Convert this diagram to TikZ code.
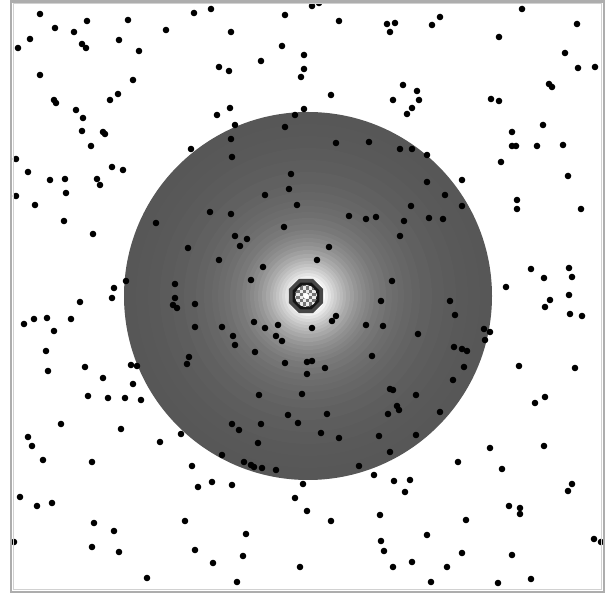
\documentclass[tikz,border=0pt]{standalone}
\usetikzlibrary{calc}

\begin{document}
\begin{tikzpicture}[
  x=0.5pt, y=-0.5pt,
  particle/.style={fill=black},
  rim/.style={draw=black!32, line width=1.4pt},
  innerrim/.style={draw=black!18, line width=0.5pt}
]
\useasboundingbox (0,0) rectangle (610,597);
\fill[white] (0,0) rectangle (610,597);

% field: concentric bands, dark rim to white centre
\coordinate (centre) at (308,296);
\foreach \r/\k in {184/66,172/65.5,160/65,148/64.5,136/63.5,124/62.5,112/61,
  104/60,96/58.8,90/57.7,84/56.3,78/54.7,72/52.8,66/50.5,62/48.5,58/46.3,
  54/43.8,50/41,46/37.8,42/34.3,38/30.5,35/27,32/23.5,29/19.5,26/15.5,
  23/11,20/6,17/0}
  \fill[black!\k] (centre) circle (\r);

% particles
\foreach \px/\py in {
  40/14,194/13,55/28,87/21,128/20,166/30,30/39,74/32,18/48,82/44,86/48,119/40,
  139/51,40/75,133/80,54/100,56/103,118/94,110/100,76/110,83/118,82/131,103/132,
  105/134,91/146,191/149,16/159,28/172,112/167,123/170,50/180,65/179,97/179,
  100/185,66/193,16/196,
  211/9,285/15,312/6,319/3,339/21,387/24,395/23,390/32,432/25,440/17,522/9,577/24,
  231/32,499/37,282/46,304/55,261/61,219/67,229/71,304/69,301/77,565/53,578/68,
  595/67,403/85,417/91,393/100,419/100,331/95,491/99,499/101,549/84,552/87,
  230/108,304/109,412/108,
  217/115,235/125,295/115,285/127,407/114,501/162,231/139,232/157,336/143,
  369/142,400/149,412/149,427/155,291/174,289/189,265/195,427/182,445/195,
  462/180,210/212,231/214,297/205,411/206,462/206,349/216,366/219,376/217,
  404/221,429/218,443/219,156/223,284/227,235/236,247/239,240/246,400/236,
  188/248,329/247,219/260,263/267,317/260,251/280,392/281,126/281,114/288,
  112/298,175/284,175/298,173/305,177/308,195/304,381/301,450/301,506/287,
  455/315,336/316,332/321,254/322,265/328,278/325,276/336,282/341,312/328,
  222/327,195/327,366/325,383/326,418/334,484/329,490/332,485/340,233/336,
  235/345,255/352,454/347,462/349,467/351,189/357,187/364,131/365,137/366,
  285/363,307/362,312/361,372/356,325/368,307/374,464/367,453/380,133/384,
  125/398,141/400,259/395,302/394,390/389,393/390,416/395,397/406,399/410,
  388/414,440/412,288/415,327/414,298/423,232/424,261/424,239/430,121/429,
  181/434,321/433,339/438,379/436,416/435,258/443,160/442,390/452,490/448,
  222/455,244/462,251/465,254/467,262/468,276/470,359/466,374/475,458/462,
  502/469,192/466,212/482,198/487,232/485,303/484,394/481,410/480,405/492,
  295/498,
  35/205,64/221,93/234,80/302,24/324,34/319,47/318,71/319,54/331,46/351,48/371,
  85/367,103/378,88/396,108/398,61/424,28/437,32/446,43/460,92/462,20/497,
  37/506,52/503,94/523,114/531,14/542,92/547,119/552,
  543/125,512/132,512/146,516/146,537/146,563/145,568/176,517/200,517/209,
  581/209,531/269,569/268,572/277,544/278,569/295,550/300,545/307,570/314,
  582/316,519/366,575/368,545/397,535/403,
  544/446,572/484,568/491,509/506,520/508,520/514,466/520,427/535,594/539,
  601/542,462/553,512/555,412/562,447/567,431/582,498/583,531/579,
  147/578,185/521,195/550,213/563,237/582,243/556,246/534,307/511,331/521,
  380/515,381/541,384/551,393/567,300/567}
  \fill[particle] (\px,\py) circle (3.3);

% core
\coordinate (core) at (306,296);
\fill[black!72] ($(core)+(22.5:18.5)$) \foreach \a in {67.5,112.5,...,337.5} {-- ($(core)+(\a:18.5)$)} -- cycle;
\fill[black!92] ($(core)+(22.5:14.5)$) \foreach \a in {67.5,112.5,...,337.5} {-- ($(core)+(\a:14.5)$)} -- cycle;
\begin{scope}
  \clip (core) circle (11);
  \fill[black!55] (core) circle (11);
  \foreach \i in {-4,...,3}
    \foreach \j in {-4,...,3} {
      \pgfmathsetmacro\cell{mod(\i+\j+8,2)}
      \ifdim\cell pt=0pt
        \fill[black!8] ($(core)+(3.2*\i,3.2*\j)$) rectangle +(3.2,3.2);
      \fi
    }
  \fill[white] (core) circle (3);
\end{scope}

% window frame
\fill[black!60] (175,0) rectangle (225,2.5);
\draw[rim] (11,1.5) rectangle (604,592);
\draw[innerrim] (13.5,3.5) rectangle (601.5,589.5);
\end{tikzpicture}
\end{document}
